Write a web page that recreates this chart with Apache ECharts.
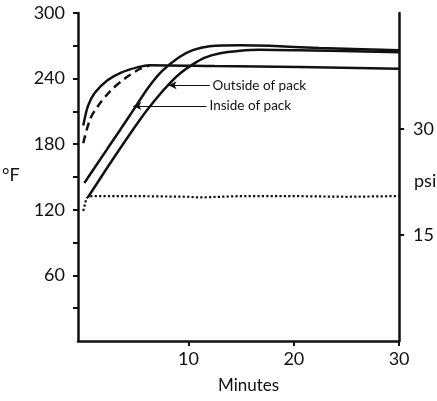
<!DOCTYPE html>
<html>
<head>
<meta charset="utf-8">
<script src="https://cdn.jsdelivr.net/npm/echarts@6/dist/echarts.min.js"></script>
<style>
  html, body { margin: 0; background: #fff; }
  #chart { width: 437px; height: 401px; }
</style>
</head>
<body>
<div id="chart"></div>
<script>
// values: [minutes, °F] and [minutes, psi]
const fastSolid = [[0, 197], [0.45, 215], [1.1, 227], [2.3, 238.5], [3.6, 245.5], [5.2, 250.5], [6.3, 252.3], [12.5, 251.5], [20.5, 250.5], [30, 249]];
const fastDashed = [[0, 181], [0.65, 203], [1.4, 215], [2.6, 229], [3.95, 240], [5.4, 249], [6.3, 252]];
const insidePack = [[0.1, 144.5], [2.3, 176], [4.4, 206], [6.2, 232], [7.5, 247], [9.1, 259.5], [10.4, 266], [12, 269.5], [14.9, 270.5], [17.7, 270], [22.4, 268], [30, 266]];
const outsidePack = [[0.45, 131.5], [3, 169], [5.5, 204], [7, 222.5], [8.3, 236.5], [9.3, 245.5], [10.4, 253], [11.5, 259], [12.9, 263], [14.9, 265.5], [16.7, 266.5], [20.5, 266], [30, 264]];
const pressure = [[0, 18.4], [0.3, 20.2], [0.6, 20.5], [5, 20.5], [10, 20.4], [11, 20.3], [15, 20.5], [20, 20.5], [25, 20.4], [30, 20.5]];

const minuteLabels = [10, 20, 30];
const tempLabels = [60, 120, 180, 240, 300];
const tempTicks = [30, 60, 90, 120, 150, 180, 210, 240, 270, 300];
const psiLabels = [15, 30];

// arrow annotations: [start minute, end minute, °F]
const outsideArrow = [8.1, 12, 234];
const insideArrow = [4.75, 11.7, 215];

const ink = '#111';
const font = 'Lato';

const chart = echarts.init(document.getElementById('chart'));

const arrowLine = (arr, text) => ({
  silent: true,
  animation: false,
  symbol: ['arrow', 'none'],
  symbolSize: [6, 8],
  lineStyle: { color: ink, width: 1.2, type: 'solid' },
  label: {
    show: true,
    position: 'end',
    formatter: text,
    color: ink,
    fontFamily: font,
    fontSize: 13.5,
    distance: 3,
  },
  data: [[{ coord: [arr[0], arr[2]] }, { coord: [arr[1], arr[2]] }]],
});

const curve = (data, extra) => Object.assign({
  type: 'line',
  data: data,
  showSymbol: false,
  smooth: 0.3,
  lineStyle: { color: ink, width: 2.5 },
  itemStyle: { color: ink },
}, extra);

const option = {
  animation: false,
  grid: { left: 78, right: 37, top: 13, bottom: 60 },
  xAxis: {
    type: 'value',
    min: -0.5,
    max: 30,
    axisLine: { lineStyle: { color: ink, width: 2.5 } },
    axisTick: { customValues: minuteLabels, length: 5, lineStyle: { color: ink, width: 2 } },
    axisLabel: { customValues: minuteLabels, color: ink, fontFamily: font, fontSize: 18, margin: 9 },
    splitLine: { show: false },
  },
  yAxis: [
    {
      type: 'value',
      min: 0,
      max: 300,
      axisLine: { show: true, onZero: false, lineStyle: { color: ink, width: 2.5 } },
      axisTick: { show: true, customValues: tempTicks, length: 5, lineStyle: { color: ink, width: 2 } },
      axisLabel: { customValues: tempLabels, color: ink, fontFamily: font, fontSize: 18, margin: 13 },
      splitLine: { show: false },
    },
    {
      type: 'value',
      position: 'right',
      min: 0,
      max: 46.4,
      axisLine: { show: true, onZero: false, lineStyle: { color: ink, width: 2.5 } },
      axisTick: { show: true, customValues: psiLabels, length: 5, lineStyle: { color: ink, width: 2 } },
      axisLabel: { customValues: psiLabels, color: ink, fontFamily: font, fontSize: 18, margin: 14 },
      splitLine: { show: false },
    },
  ],
  graphic: [
    { type: 'text', left: 2, top: 166, style: { text: '°F', fill: ink, font: '18px ' + font } },
    { type: 'text', left: 414, top: 172, style: { text: 'psi', fill: ink, font: '18px ' + font } },
    { type: 'text', left: 218, top: 377, style: { text: 'Minutes', fill: ink, font: '17px ' + font } },
  ],
  series: [
    curve(fastSolid),
    curve(fastDashed, { lineStyle: { color: ink, width: 2.5, type: [8, 5] } }),
    curve(insidePack, { markLine: arrowLine(insideArrow, 'Inside of pack') }),
    curve(outsidePack, { markLine: arrowLine(outsideArrow, 'Outside of pack') }),
    curve(pressure, { yAxisIndex: 1, smooth: false, lineStyle: { color: ink, width: 2.2, type: 'dotted' } }),
  ],
};

chart.setOption(option);
</script>
</body>
</html>
